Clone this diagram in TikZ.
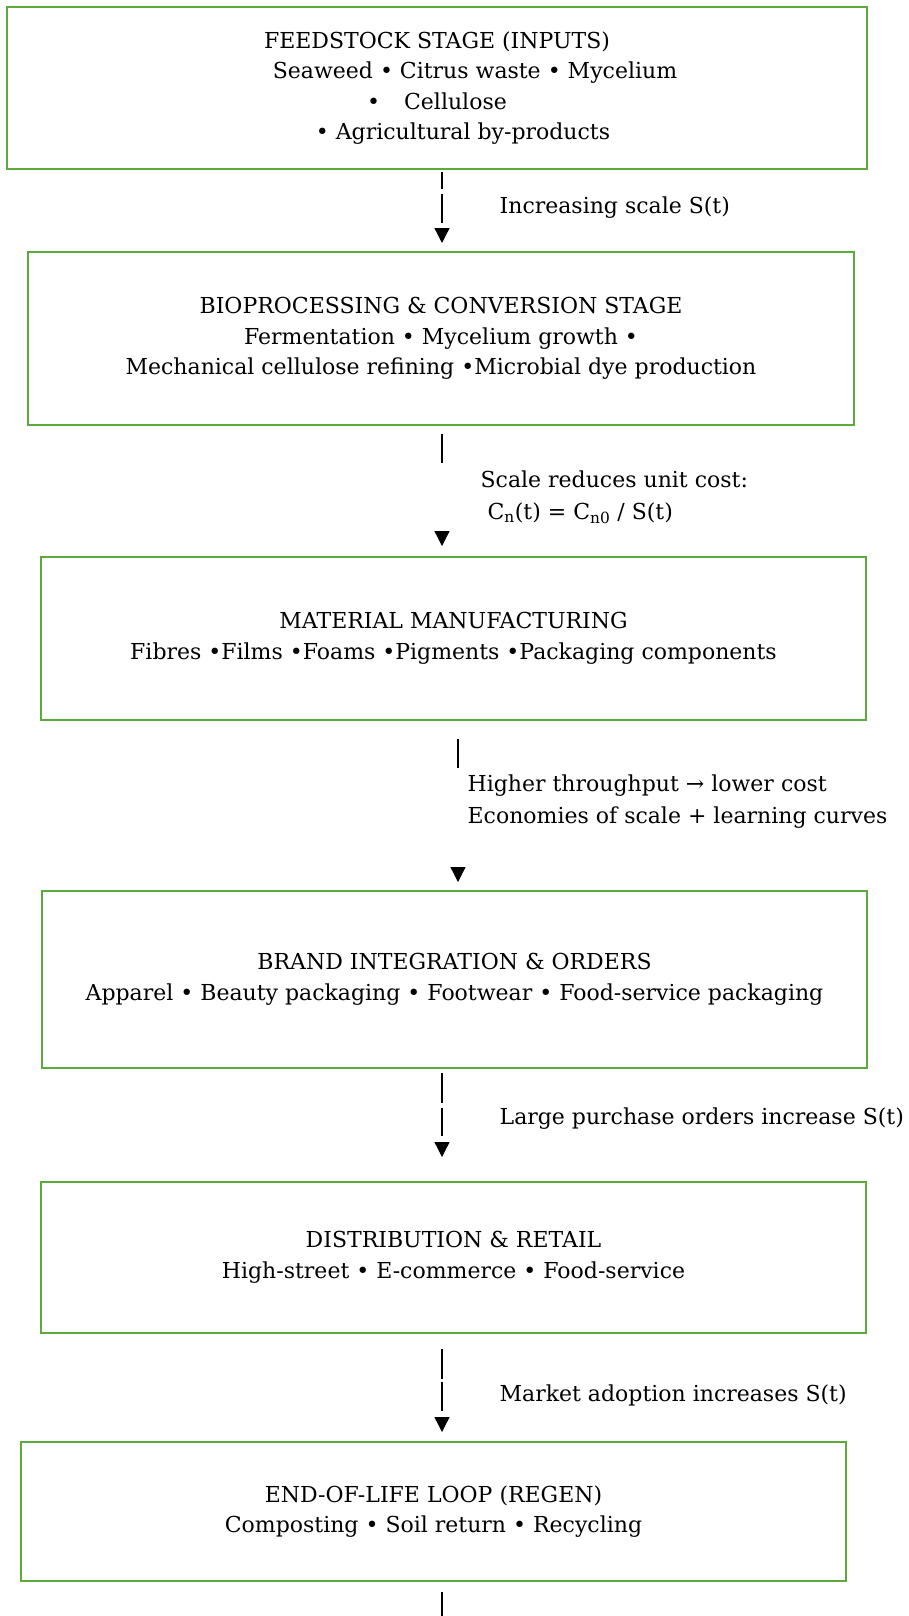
\documentclass[tikz,border=0pt]{standalone}
\usepackage{fontspec}
\setmainfont{DejaVu Serif}
\usetikzlibrary{arrows.meta}

\begin{document}
\begin{tikzpicture}[x=1pt,y=-1pt]
\definecolor{stagegreen}{RGB}{92,170,60}
\tikzstyle{stage} = [rectangle, draw=stagegreen, line width=2pt, align=center,
inner sep=0pt, font=\fontsize{22}{30.5}\selectfont]
\tikzstyle{flow} = [draw, line width=1.3pt, -{Triangle[length=15pt,width=15pt]}]
\tikzstyle{note} = [anchor=west, inner sep=0pt, align=left,
font=\fontsize{22}{32}\selectfont]
\useasboundingbox (0,0) rectangle (908,1616);
\coordinate (axis) at (442,0);
\coordinate (axisb) at (458,0);
% stages
\node [stage, minimum width=860pt, minimum height=162pt] (feed) at (437,88)
{FEEDSTOCK STAGE (INPUTS)\\
\hspace*{76pt}Seaweed • Citrus waste • Mycelium\\
•\hspace{24pt}Cellulose\\
\hspace*{52pt}• Agricultural by-products};
\node [stage, minimum width=826pt, minimum height=173pt] (bio) at (441,338.5)
{BIOPROCESSING \& CONVERSION STAGE\\
Fermentation • Mycelium growth •\\
Mechanical cellulose refining •Microbial dye production};
\node [stage, minimum width=825pt, minimum height=163pt] (manuf) at (453.5,638.5)
{MATERIAL MANUFACTURING\\
Fibres •Films •Foams •Pigments •Packaging components};
\node [stage, minimum width=825pt, minimum height=177pt] (brand) at (454.5,979.5)
{BRAND INTEGRATION \& ORDERS\\
Apparel • Beauty packaging • Footwear • Food-service packaging};
\node [stage, minimum width=825pt, minimum height=151pt] (retail) at (453.5,1257.5)
{DISTRIBUTION \& RETAIL\\
High-street • E-commerce • Food-service};
\node [stage, minimum width=825pt, minimum height=139pt] (regen) at (433.5,1511.5)
{END-OF-LIFE LOOP (REGEN)\\
Composting • Soil return • Recycling};
\coordinate (tail) at (442,1616);

% connectors
\path [flow, dash pattern=on 17pt off 5pt on 29pt off 60pt, shorten <=2pt, shorten >=8pt]
(feed.south -| axis) -- node[note, pos=0.46, xshift=57pt] {Increasing scale S(t)} (bio.north -| axis);
\path [flow, dash pattern=on 29pt off 200pt, shorten <=8pt, shorten >=10pt]
(bio.south -| axis) -- node[note, pos=0.55, xshift=38pt]
{Scale reduces unit cost:\\ \hspace*{7pt}C\textsubscript{n}(t) = C\textsubscript{n0} / S(t)} (manuf.north -| axis);
\path [flow, dash pattern=on 29pt off 200pt, shorten <=18pt, shorten >=8pt]
(manuf.south -| axisb) -- node[note, pos=0.474, xshift=9pt]
{Higher throughput → lower cost\\ Economies of scale + learning curves} (brand.north -| axisb);
\path [flow, dash pattern=on 30pt off 5pt on 28pt off 60pt, shorten <=4pt, shorten >=24pt]
(brand.south -| axis) -- node[note, pos=0.44, xshift=57pt] {Large purchase orders increase S(t)} (retail.north -| axis);
\path [flow, dash pattern=on 30pt off 3pt on 29pt off 60pt, shorten <=15pt, shorten >=9pt]
(retail.south -| axis) -- node[note, pos=0.57, xshift=57pt] {Market adoption increases S(t)} (regen.north -| axis);
\path [draw, line width=1.3pt, shorten <=10pt] (regen.south -| axis) -- (tail);
\end{tikzpicture}
\end{document}
